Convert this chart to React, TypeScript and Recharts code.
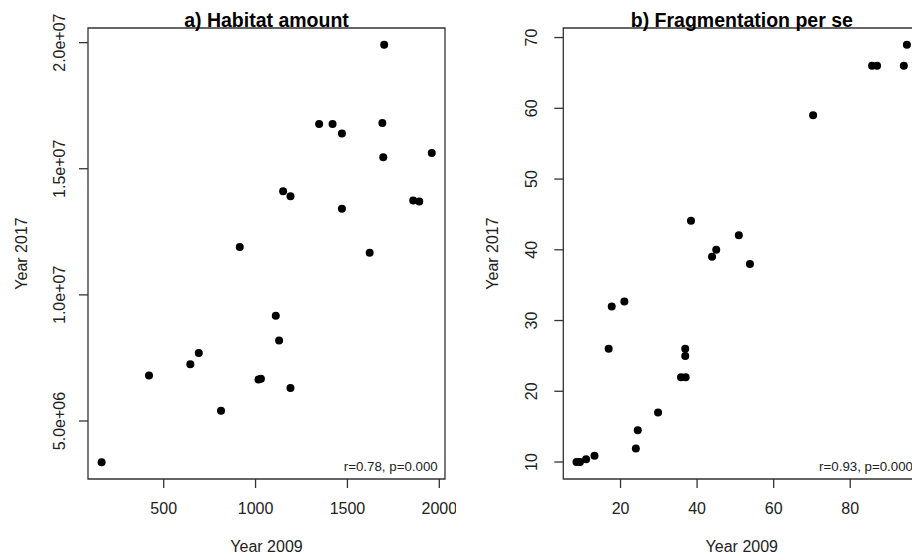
import { ScatterChart, Scatter, XAxis, YAxis, ReferenceArea, Label } from "recharts";

const FONT = "'Liberation Sans', Arial, sans-serif";

// a) Habitat amount
const habitat2009 = [1700, 1346, 1419, 1470, 1690, 1695, 1959, 1150, 1190, 1470, 1858, 1891, 914, 1621, 1110, 1128, 691, 645, 420, 1016, 1029, 1190, 812, 162];
const habitat2017 = [19920000, 16770000, 16770000, 16400000, 16810000, 15460000, 15620000, 14110000, 13910000, 13410000, 13740000, 13700000, 11900000, 11670000, 9170000, 8190000, 7700000, 7250000, 6800000, 6640000, 6670000, 6310000, 5410000, 3360000];
const habitatXTicks = [500, 1000, 1500, 2000];
const habitatYTicks = [5000000, 10000000, 15000000, 20000000];
const habitatYLabels = ["5.0e+06", "1.0e+07", "1.5e+07", "2.0e+07"];

// b) Fragmentation per se
const frag2009 = [94.8, 85.7, 87.0, 94.0, 70.3, 38.4, 50.9, 45.0, 43.9, 53.8, 21.0, 17.7, 16.9, 36.9, 36.9, 35.8, 37.0, 29.8, 24.5, 24.0, 13.2, 11.0, 8.5, 9.4];
const frag2017 = [69, 66, 66, 66, 59, 44.1, 42.05, 40, 39, 38, 32.7, 32, 26, 26, 25, 22, 22, 17, 14.5, 11.9, 10.9, 10.4, 10, 10];
const fragXTicks = [20, 40, 60, 80];
const fragYTicks = [10, 20, 30, 40, 50, 60, 70];
const fragYLabels = ["10", "20", "30", "40", "50", "60", "70"];

const toPoints = (xs: number[], ys: number[]) => xs.map((x, i) => ({ x, y: ys[i] }));

function Panel(props: any) {
  const {
    left, width, yAxisWidth, marginRight, title, stat, xs, ys,
    xDomain, yDomain, xTicks, yTicks, yLabels, yTickMargin, yLabelOffset,
  } = props;
  const data = toPoints(xs, ys);

  const XTick = ({ x, y, payload }: any) => (
    <text x={x} y={y} dy="0.71em" textAnchor="middle" fontSize={16} fill="#222" fontFamily={FONT}>
      {payload.value}
    </text>
  );

  const YTick = ({ x, y, payload }: any) => (
    <text x={x} y={y} transform={`rotate(-90 ${x} ${y})`} textAnchor="middle" fontSize={16} fill="#222" fontFamily={FONT}>
      {yLabels[yTicks.indexOf(payload.value)]}
    </text>
  );

  const yTitle = ({ viewBox }: any) => {
    const bx = viewBox.x + viewBox.width - yLabelOffset;
    const cy = viewBox.y + viewBox.height / 2;
    return (
      <text x={bx} y={cy} transform={`rotate(-90 ${bx} ${cy})`} textAnchor="middle" fontSize={16} fill="#222" fontFamily={FONT}>
        Year 2017
      </text>
    );
  };

  const xTitle = ({ viewBox }: any) => (
    <text x={viewBox.x + viewBox.width / 2} y={viewBox.y + 73} textAnchor="middle" fontSize={16} fill="#222" fontFamily={FONT}>
      Year 2009
    </text>
  );

  const boxText = ({ viewBox }: any) => (
    <g>
      <text x={viewBox.x + viewBox.width / 2} y={viewBox.y - 1} textAnchor="middle" fontSize={19.5} fontWeight="bold" fill="#000" fontFamily={FONT}>
        {title}
      </text>
      <text x={viewBox.x + viewBox.width - 7.3} y={viewBox.y + viewBox.height - 8.3} textAnchor="end" fontSize={13.3} fill="#222" fontFamily={FONT}>
        {stat}
      </text>
    </g>
  );

  return (
    <div style={{ position: "absolute", left, top: 0 }}>
      <ScatterChart width={width} height={560} margin={{ top: 28, right: marginRight, bottom: 0, left: 0 }}>
        <XAxis
          type="number"
          dataKey="x"
          domain={xDomain}
          allowDataOverflow
          ticks={xTicks}
          height={81}
          axisLine={false}
          tickSize={9}
          tickMargin={15}
          tickLine={{ stroke: "#333", strokeWidth: 1.3 }}
          tick={<XTick />}
        >
          <Label content={xTitle} />
        </XAxis>
        <YAxis
          type="number"
          dataKey="y"
          domain={yDomain}
          allowDataOverflow
          ticks={yTicks}
          width={yAxisWidth}
          axisLine={false}
          tickSize={9}
          tickMargin={yTickMargin}
          tickLine={{ stroke: "#333", strokeWidth: 1.3 }}
          tick={<YTick />}
        >
          <Label content={yTitle} />
        </YAxis>
        <ReferenceArea
          x1={xDomain[0]}
          x2={xDomain[1]}
          y1={yDomain[0]}
          y2={yDomain[1]}
          fill="none"
          stroke="#333"
          strokeWidth={1.3}
          ifOverflow="visible"
          label={boxText}
        />
        <Scatter
          data={data}
          isAnimationActive={false}
          shape={(p: any) => <circle cx={p.cx} cy={p.cy} r={4} fill="#000" />}
        />
      </ScatterChart>
    </div>
  );
}

export default function App() {
  return (
    <div style={{ position: "absolute", left: 0, top: 0, width: 912, height: 560, overflow: "hidden", background: "#fff" }}>
      <Panel
        left={0}
        width={456}
        yAxisWidth={88}
        marginRight={11}
        title="a) Habitat amount"
        stat="r=0.78, p=0.000"
        xs={habitat2009}
        ys={habitat2017}
        xDomain={[88, 2031]}
        yDomain={[2700000, 20580000]}
        xTicks={habitatXTicks}
        yTicks={habitatYTicks}
        yLabels={habitatYLabels}
        yTickMargin={14}
        yLabelOffset={61}
      />
      <Panel
        left={456}
        width={480}
        yAxisWidth={107.3}
        marginRight={15.7}
        title="b) Fragmentation per se"
        stat="r=0.93, p=0.000"
        xs={frag2009}
        ys={frag2017}
        xDomain={[5.05, 98.3]}
        yDomain={[7.6, 71.35]}
        xTicks={fragXTicks}
        yTicks={fragYTicks}
        yLabels={fragYLabels}
        yTickMargin={17}
        yLabelOffset={65.6}
      />
    </div>
  );
}
